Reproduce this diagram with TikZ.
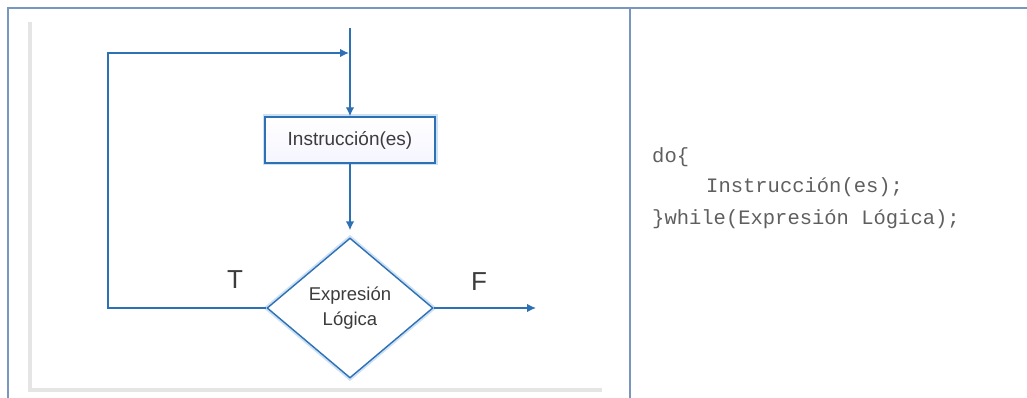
\documentclass[tikz,border=0pt]{standalone}
\usepackage{fontspec}
\setmainfont{Liberation Sans}
\newfontfamily\codefont{Liberation Mono}
\usetikzlibrary{shapes.geometric,arrows.meta}
\definecolor{flow}{RGB}{46,112,180}
\definecolor{glow}{RGB}{205,225,245}
\definecolor{frame}{RGB}{120,150,190}
\definecolor{ink}{RGB}{60,60,60}
\definecolor{codeink}{RGB}{95,95,95}
\tikzset{
  flowline/.style={draw=flow, line width=1.4pt},
  flowarrow/.style={flowline, -{Latex[length=9pt,width=8.5pt]}},
  procbox/.style={draw=flow, line width=1.4pt, inner sep=0pt,
    top color=white, bottom color=blue!4,
    minimum width=170pt, minimum height=46pt, text=ink,
    font=\fontsize{19}{22}\selectfont,
    preaction={draw=glow, line width=5pt}},
  decision/.style={diamond, draw=flow, line width=1.4pt, fill=white, inner sep=0pt,
    minimum width=166pt, minimum height=140pt, text=ink, align=center,
    font=\fontsize{18.5}{25}\selectfont,
    preaction={draw=glow, line width=5pt}},
  branch/.style={text=ink, font=\fontsize{26}{26}\selectfont},
  codeline/.style={anchor=west, text=codeink, inner sep=0pt,
    font=\codefont\fontsize{20.5}{24}\selectfont},
}
\begin{document}
\begin{tikzpicture}[x=1pt,y=-1pt]
  \useasboundingbox (0,0) rectangle (1027,398);
  % table frame
  \draw[frame, line width=1.6pt] (8,398) -- (8,8) -- (1027,8);
  \draw[frame, line width=1.6pt] (630,8) -- (630,398);
  % panel shadow behind the flowchart
  \draw[black!10, line width=4pt] (30,22) -- (30,390) -- (602,390);
  % flowchart
  \coordinate (top) at (350,28);
  \node[procbox] (proc) at (350,140) {Instrucción(es)};
  \node[decision] (cond) at (350,308) {Expresión\\Lógica};
  \coordinate (loopL) at (108,308);
  \coordinate (loopT) at (108,53);
  \coordinate (join) at (350,53);
  \coordinate (exit) at (536,308);
  \draw[flowarrow] (top) -- (proc.north);
  \draw[flowarrow] (proc.south) -- ([yshift=7pt]cond.north);
  \draw[flowarrow] (cond.west) -- (loopL) -- (loopT) -- ([xshift=-1pt]join);
  \draw[flowarrow] (cond.east) -- (exit);
  \node[branch] (t) at (235,280) {T};
  \node[branch] (f) at (479,282) {F};
  % source code
  \node[codeline] (c1) at (652,157) {do\{};
  \node[codeline] (c2) at (706,187) {Instrucción(es);};
  \node[codeline] (c3) at (652,219) {\}while(Expresión Lógica);};
\end{tikzpicture}
\end{document}
